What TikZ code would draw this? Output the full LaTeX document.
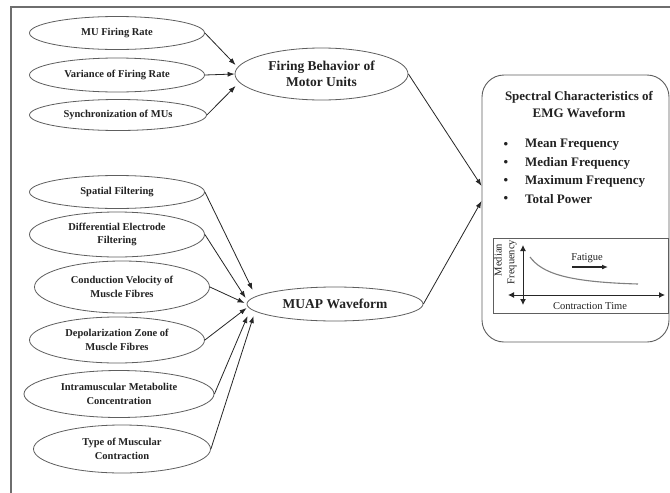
\documentclass[tikz,border=0pt]{standalone}
\usepackage{fontspec}
\setmainfont{Liberation Serif}
\usetikzlibrary{shapes.geometric,arrows.meta,calc}
\definecolor{edgegray}{HTML}{5E5E5E}
\definecolor{framegray}{HTML}{6E6E6E}
\definecolor{txt}{HTML}{222222}
\definecolor{curvegray}{HTML}{808080}
\begin{document}
\begin{tikzpicture}[x=1pt,y=-1pt,
  lbl/.style={ellipse,draw=edgegray,line width=0.8pt,inner sep=0pt,text=txt,align=center,
    font=\fontsize{10.5}{13.5}\selectfont\bfseries},
  biglbl/.style={ellipse,draw=edgegray,line width=0.8pt,inner sep=0pt,text=txt,align=center,
    font=\fontsize{13.5}{16}\selectfont\bfseries},
  arr/.style={-{Latex[length=7pt,width=5pt]},line width=0.8pt,draw=black!85},
  axarr/.style={{Latex[length=6pt,width=6pt]}-{Latex[length=6pt,width=6pt]},line width=1pt,draw=black!85},
  itemtxt/.style={anchor=west,inner sep=0pt,text=txt,font=\fontsize{13}{15}\selectfont\bfseries},
  bul/.style={inner sep=0pt,text=txt,font=\fontsize{13}{15}\selectfont\bfseries},
  charttxt/.style={inner sep=0pt,text=txt,font=\fontsize{10.5}{12}\selectfont}
]
\useasboundingbox (0,0) rectangle (670,493);
\clip (0,0) rectangle (670,493);
\fill[white] (0,0) rectangle (670,493);
\draw[framegray,line width=1.6pt] (11,7) rectangle (700,520);

% left ellipses, group 1
\node[lbl,minimum width=175pt,minimum height=33pt] (mufr) at (117,33) {MU Firing Rate};
\node[lbl,minimum width=175pt,minimum height=34pt] (var) at (117,75) {Variance of Firing Rate};
\node[lbl,minimum width=177pt,minimum height=31pt] (sync) at (118,115) {Synchronization of MUs};

% left ellipses, group 2
\node[lbl,minimum width=175pt,minimum height=33pt] (sf) at (117,192) {Spatial Filtering};
\node[lbl,minimum width=175pt,minimum height=45pt] (def) at (117,234.5) {Differential Electrode\\Filtering};
\node[lbl,minimum width=175pt,minimum height=52pt] (cv) at (122,287) {Conduction Velocity of\\Muscle Fibres};
\node[lbl,minimum width=175pt,minimum height=46pt] (dz) at (117,340) {Depolarization Zone of\\Muscle Fibres};
\node[lbl,minimum width=190pt,minimum height=47pt] (im) at (119,394) {Intramuscular Metabolite\\Concentration};
\node[lbl,minimum width=177pt,minimum height=48pt] (tm) at (122,449) {Type of Muscular\\Contraction};

% middle ellipses
\node[biglbl,minimum width=173pt,minimum height=52pt] (fb) at (321.5,74) {Firing Behavior of\\Motor Units};
\node[biglbl,minimum width=176pt,minimum height=34pt] (muap) at (335,304) {MUAP Waveform};

% right box
\node[draw=edgegray,line width=0.9pt,rounded corners=22pt,minimum width=187pt,minimum height=267pt,inner sep=0pt] (spec) at (575.5,208.5) {};
\node[inner sep=0pt,text=txt,align=center,font=\fontsize{13}{17}\selectfont\bfseries] (title) at (579,105) {Spectral Characteristics of\\EMG Waveform};
\node[bul] (d1) at (506,145) {\textbullet};
\node[bul] (d2) at (506,163) {\textbullet};
\node[bul] (d3) at (506,181) {\textbullet};
\node[bul] (d4) at (506,199) {\textbullet};
\node[itemtxt] (i1) at (525,145) {Mean Frequency};
\node[itemtxt] (i2) at (525,163) {Median Frequency};
\node[itemtxt] (i3) at (525,181) {Maximum Frequency};
\node[itemtxt] (i4) at (525,199) {Total Power};

% chart
\node[draw=edgegray,line width=0.8pt,minimum width=175pt,minimum height=75pt,inner sep=0pt] (chart) at (580.5,275.5) {};
\coordinate (vtop) at (523,245);
\coordinate (vbot) at (523,305);
\coordinate (hl) at (508,295);
\coordinate (hr) at (665,295);
\draw[axarr] (vbot) -- (vtop);
\draw[axarr] (hl) -- (hr);
\node[charttxt,rotate=90] (med) at (498,260) {Median};
\node[charttxt,rotate=90] (frq) at (512,262) {Frequency};
\node[charttxt] (ctime) at (590,306) {Contraction Time};
\node[charttxt] (fat) at (587,258) {Fatigue};
\coordinate (fa1) at (572,267);
\coordinate (fa2) at (608,267);
\draw[-{Latex[length=6pt,width=5pt]},line width=1.2pt,draw=black!85] (fa1) -- (fa2);
\coordinate (c1) at (530,257);
\coordinate (c2) at (638,284);
\draw[curvegray,line width=1.1pt] (c1) .. controls (542,273) and (566,282) .. (c2);

% connectors to firing behavior
\draw[arr] (mufr.east) -- ($(fb.west)+(1,-9)$);
\draw[arr] (var.east) -- (fb.west);
\draw[arr] (sync.east) -- ($(fb.west)+(1,12)$);

% connectors to MUAP
\draw[arr] (sf.east) -- ($(muap.west)+(6,-14)$);
\draw[arr] (def.east) -- ($(muap.west)+(-1,-6)$);
\draw[arr] (cv.east) -- ($(muap.west)+(-2,-1)$);
\draw[arr] (dz.east) -- ($(muap.west)+(0,4)$);
\draw[arr] (im.east) -- ($(muap.west)+(1,12)$);
\draw[arr] (tm.east) -- ($(muap.west)+(7,12)$);

% connectors to spectral box
\draw[arr] (fb.east) -- ($(spec.west)+(0,-22.5)$);
\draw[arr] (muap.east) -- ($(spec.west)+(0,-7.5)$);
\end{tikzpicture}
\end{document}
